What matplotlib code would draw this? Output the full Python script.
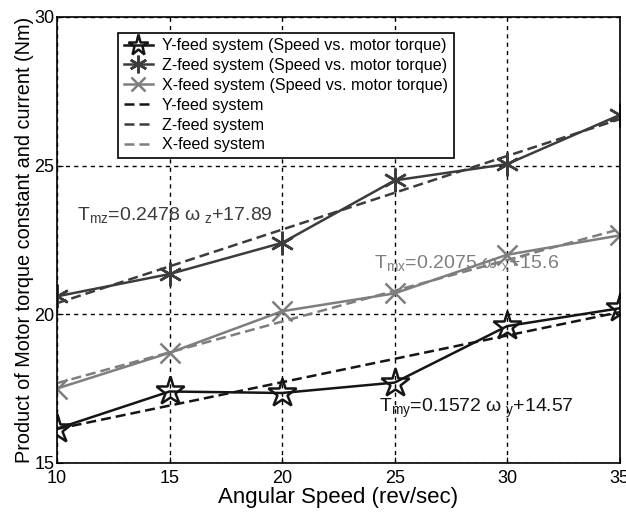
import matplotlib
matplotlib.use("Agg")
import matplotlib.pyplot as plt

plt.rcParams['font.family'] = ['Liberation Sans', 'DejaVu Sans']
plt.rcParams['mathtext.fontset'] = 'custom'
plt.rcParams['mathtext.rm'] = 'Liberation Sans'

speed = [10, 15, 20, 25, 30, 35]
y_feed = [16.15, 17.4, 17.35, 17.7, 19.6, 20.2]
z_feed = [20.6, 21.35, 22.4, 24.5, 25.05, 26.7]
x_feed = [17.5, 18.7, 20.1, 20.7, 22.0, 22.65]

fit_x = [10, 35]
y_fit = [16.14, 20.07]
z_fit = [20.37, 26.56]
x_fit = [17.68, 22.86]

c_y = '#151515'
c_z = '#3c3c3c'
c_x = '#7e7e7e'

fig = plt.figure(figsize=(6.26, 5.12), dpi=100)
ax = fig.add_axes([0.091, 0.096, 0.899, 0.871])

ax.plot(speed, y_feed, color=c_y, lw=1.8, marker='*', ms=21, mfc='none', mew=1.8,
        label='Y-feed system (Speed vs. motor torque)')
ax.plot(speed, z_feed, color=c_z, lw=1.8, marker=(6, 2, 0), ms=17, mew=1.8,
        label='Z-feed system (Speed vs. motor torque)')
ax.plot(speed, x_feed, color=c_x, lw=1.8, marker='x', ms=14, mew=1.8,
        label='X-feed system (Speed vs. motor torque)')
ax.plot(fit_x, y_fit, color=c_y, lw=1.8, ls=(0, (4, 2)), label='Y-feed system')
ax.plot(fit_x, z_fit, color=c_z, lw=1.8, ls=(0, (4, 2)), label='Z-feed system')
ax.plot(fit_x, x_fit, color=c_x, lw=1.8, ls=(0, (4, 2)), label='X-feed system')

ax.set_xlim(10, 35)
ax.set_ylim(15, 30)
ax.set_xticks([10, 15, 20, 25, 30, 35])
ax.set_yticks([15, 20, 25, 30])
ax.grid(True, color='black', ls=(0, (3, 3)), lw=1)
ax.tick_params(labelsize=13, direction='in', length=4, pad=2)
ax.tick_params(axis='x', pad=5)
for s in ax.spines.values():
    s.set_linewidth(1.2)

ax.set_xlabel('Angular Speed (rev/sec)', fontsize=16, labelpad=0)
ax.set_ylabel('Product of Motor torque constant and current (Nm)', fontsize=14.3, labelpad=0)

ax.text(10.9, 23.3, r'T$_{\mathregular{mz}}$=0.2478 ω$_{\mathregular{\ z}}$+17.89', fontsize=14, color=c_z, va='center')
ax.text(24.1, 21.7, r'T$_{\mathregular{mx}}$=0.2075 ω$_{\mathregular{\ x}}$+15.6', fontsize=14, color=c_x, va='center')
ax.text(24.3, 16.85, r'T$_{\mathregular{my}}$=0.1572 ω$_{\mathregular{\ y}}$+14.57', fontsize=14, color=c_y, va='center')

leg = ax.legend(loc='upper left', bbox_to_anchor=(0.094, 0.983), fontsize=11.6,
                frameon=True, fancybox=False, edgecolor='black', framealpha=1,
                handlelength=1.8, borderpad=0.35, labelspacing=0.3, handletextpad=0.6,
                markerscale=0.75)
leg.get_frame().set_linewidth(1.2)

fig.savefig('out.png', dpi=100)
